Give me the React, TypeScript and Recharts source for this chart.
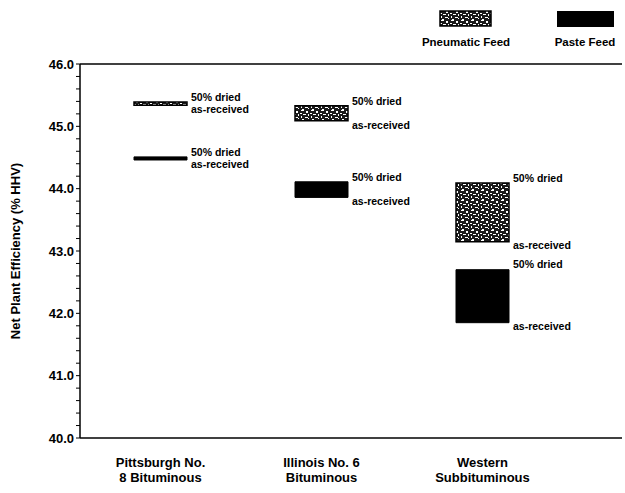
import React from 'react';
import { BarChart, Bar, XAxis, YAxis, ReferenceLine, LabelList, Label } from 'recharts';

const categories = ['Pittsburgh No.\n8 Bituminous', 'Illinois No. 6\nBituminous', 'Western\nSubbituminous'];
const pneumaticAsReceived = [45.34, 45.09, 43.15];
const pneumaticDried = [45.39, 45.33, 44.09];
const pasteAsReceived = [44.46, 43.86, 41.85];
const pasteDried = [44.51, 44.11, 42.7];
const yTicks = [
    40, 40.2, 40.4, 40.6, 40.8, 41, 41.2, 41.4, 41.6, 41.8, 42, 42.2, 42.4, 42.6, 42.8,
    43, 43.2, 43.4, 43.6, 43.8, 44, 44.2, 44.4, 44.6, 44.8, 45, 45.2, 45.4, 45.6, 45.8, 46
];

const data = categories.map((name, i) => ({
    name,
    pneumatic: [pneumaticAsReceived[i], pneumaticDried[i]],
    paste: [pasteAsReceived[i], pasteDried[i]]
}));

const FONT = '"Liberation Sans", Arial, sans-serif';

const CoalTick = (props: any) => {
    const { x, y, payload } = props;
    const lines = String(payload.value).split('\n');
    return (
        <text x={x} y={y} textAnchor="middle" fontFamily={FONT} fontWeight="bold" fontSize={13} fill="#000">
            {lines.map((l, i) => (
                <tspan key={i} x={x} dy={i === 0 ? 21 : 15}>{l}</tspan>
            ))}
        </text>
    );
};

// labels next to the top / bottom edge of every range bar
const EdgeLabels = (props: any) => {
    const { x, y, width, height } = props;
    const top = Math.min(y, y + height);
    const bottom = Math.max(y, y + height);
    const tx = x + width + 4;
    return (
        <g fontFamily={FONT} fontWeight="bold" fontSize={10.5} fill="#000">
            <text x={tx} y={top - 4} dominantBaseline="middle">50% dried</text>
            <text x={tx} y={bottom + 5} dominantBaseline="middle">as-received</text>
        </g>
    );
};

const Legend = () => (
    <div style={{ position: 'absolute', left: 0, top: 0, width: 625, height: 50, fontFamily: FONT, fontWeight: 'bold', fontSize: 11.5 }}>
        <svg width={625} height={30} style={{ position: 'absolute', left: 0, top: 0 }}>
            <defs>
                <pattern id="speckle" width="10" height="10" patternUnits="userSpaceOnUse">
                    <rect width="10" height="10" fill="#1a1a1a" />
                    <rect x="1" y="0" width="3" height="1" fill="#fff" />
                    <rect x="6" y="1" width="2" height="2" fill="#fff" />
                    <rect x="0" y="3" width="2" height="1" fill="#fff" />
                    <rect x="3" y="4" width="3" height="1" fill="#fff" />
                    <rect x="8" y="4" width="1" height="2" fill="#fff" />
                    <rect x="1" y="6" width="1" height="2" fill="#fff" />
                    <rect x="5" y="7" width="3" height="1" fill="#fff" />
                    <rect x="2" y="9" width="2" height="1" fill="#fff" />
                    <rect x="8" y="8" width="1" height="1" fill="#fff" />
                </pattern>
            </defs>
            <rect x={440} y={11} width={51} height={15} fill="url(#speckle)" stroke="#000" strokeWidth={1.5} />
            <rect x={557} y={11} width={57} height={16} fill="#000" />
        </svg>
        <div style={{ position: 'absolute', left: 416, top: 36, width: 100, textAlign: 'center' }}>Pneumatic Feed</div>
        <div style={{ position: 'absolute', left: 535, top: 36, width: 100, textAlign: 'center' }}>Paste Feed</div>
    </div>
);

const App = () => {
    return (
        <div style={{ position: 'absolute', left: 0, top: 0, width: 625, height: 493, background: '#fff' }}>
            <Legend />
            <BarChart
                width={625}
                height={493}
                data={data}
                margin={{ top: 64, right: 3, left: 0, bottom: 25 }}
                style={{ position: 'absolute', left: 0, top: 0 }}
            >
                <XAxis
                    xAxisId="a"
                    dataKey="name"
                    padding={{ left: 0, right: 59 }}
                    tickLine={false}
                    axisLine={{ stroke: '#000', strokeWidth: 1.5 }}
                    tick={<CoalTick />}
                    interval={0}
                />
                <XAxis xAxisId="b" dataKey="name" padding={{ left: 0, right: 59 }} hide />
                <YAxis
                    domain={[40, 46]}
                    ticks={yTicks}
                    interval={0}
                    width={80}
                    tickSize={4}
                    axisLine={{ stroke: '#000', strokeWidth: 1.5 }}
                    tickLine={{ stroke: '#000' }}
                    tickFormatter={(v: number) => (Number.isInteger(v) ? v.toFixed(1) : '')}
                    tick={{ fill: '#000', fontSize: 13, fontWeight: 'bold', fontFamily: FONT }}
                >
                    <Label
                        content={(p: any) => {
                            const vb = p.viewBox || {};
                            const cy = (vb.y ?? 64) + (vb.height ?? 374) / 2;
                            return (
                                <text
                                    x={17}
                                    y={cy}
                                    transform={`rotate(-90, 17, ${cy})`}
                                    textAnchor="middle"
                                    dominantBaseline="middle"
                                    fontFamily={FONT}
                                    fontWeight="bold"
                                    fontSize={13}
                                    fill="#000"
                                >
                                    Net Plant Efficiency  (% HHV)
                                </text>
                            );
                        }}
                    />
                </YAxis>
                <ReferenceLine xAxisId="a" y={46} stroke="#000" strokeWidth={1.5} />
                <Bar
                    xAxisId="a"
                    dataKey="pneumatic"
                    barSize={53}
                    fill="url(#speckle)"
                    stroke="#000"
                    strokeWidth={1.5}
                    isAnimationActive={false}
                >
                    <LabelList dataKey="pneumatic" content={<EdgeLabels />} />
                </Bar>
                <Bar
                    xAxisId="b"
                    dataKey="paste"
                    barSize={53}
                    fill="#000"
                    stroke="#000"
                    strokeWidth={1}
                    isAnimationActive={false}
                >
                    <LabelList dataKey="paste" content={<EdgeLabels />} />
                </Bar>
            </BarChart>
        </div>
    );
};

export default App;
